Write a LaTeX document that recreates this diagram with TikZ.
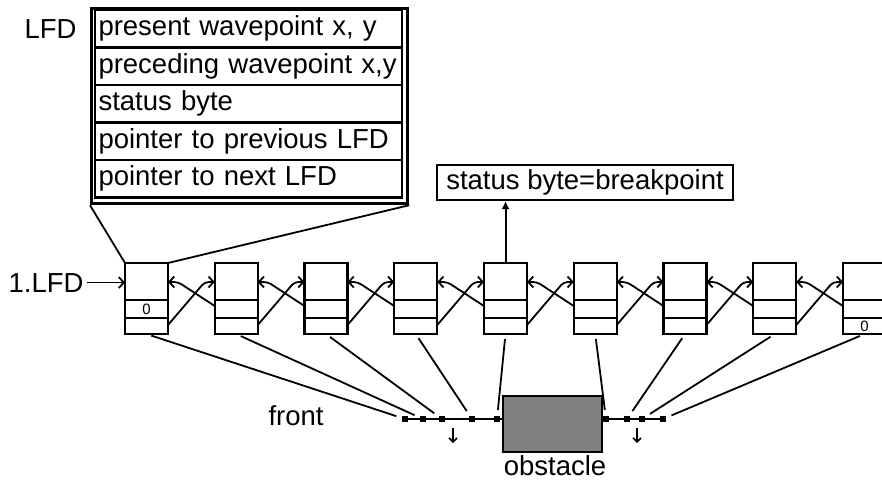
\documentclass[tikz,border=0pt]{standalone}
\usepackage{fontspec}
\setmainfont{Liberation Sans}
\usetikzlibrary{positioning,calc,arrows.meta}
\definecolor{obstgray}{RGB}{128,128,128}

\begin{document}
\begin{tikzpicture}[x=1pt,y=1pt,
    every node/.style={font=\fontsize{27.5}{32}\selectfont},
    lfdbox/.style={draw,line width=2.2pt,minimum width=43pt,minimum height=71pt,inner sep=0pt,outer sep=0pt},
    fieldrow/.style={draw,line width=2.2pt,text width=300pt,align=left,inner xsep=3.5pt,inner ysep=5.75pt,
        text height=20pt,text depth=6pt,outer sep=0pt},
    frontdot/.style={fill,minimum size=5.5pt,inner sep=0pt},
    ptr/.style={line width=1.8pt,rounded corners=4pt,-{Straight Barb[length=5pt,width=11pt]}}
]
\useasboundingbox (0,0) rectangle (882,-485);

% LFD record
\node[anchor=base west] (lfdlab) at (21,-38) {LFD};
\node[draw,line width=3.2pt,minimum width=316pt,minimum height=195pt,inner sep=0pt,anchor=north west] (lfd) at (90,-7) {};
\node[fieldrow,anchor=north west] (f1) at (95,-10) {present wavepoint x, y};
\node[fieldrow,below=0pt of f1] (f2) {preceding wavepoint x,y};
\node[fieldrow,below=0pt of f2] (f3) {status byte};
\node[fieldrow,below=0pt of f3] (f4) {pointer to previous LFD};
\node[fieldrow,below=0pt of f4] (f5) {pointer to next LFD};

% Chain of LFDs
\foreach \i in {1,...,9}{
    \node[lfdbox] (b\i) at ({146.5+89.75*(\i-1)},-298.5) {};
    \draw[line width=2.2pt] ($(b\i.north west)+(0,-37)$) -- ($(b\i.north east)+(0,-37)$);
    \draw[line width=2.2pt] ($(b\i.north west)+(0,-55)$) -- ($(b\i.north east)+(0,-55)$);
}
\node[font=\fontsize{15}{16}\selectfont] (z1) at ($(b1.north)+(0,-46)$) {0};
\node[font=\fontsize{15}{16}\selectfont] (z9) at ($(b9.north)+(0,-63.5)$) {0};

% Pointers
\foreach \i in {1,...,8}{
    \pgfmathtruncatemacro{\j}{\i+1}
    \draw[ptr] ($(b\j.north west)+(0,-43)$) -- ($(b\i.north east)+(10,-19)$) -- ($(b\i.north east)+(0,-19)$);
    \draw[ptr] ($(b\i.north east)+(0,-62)$) -- ($(b\j.north west)+(-10,-19)$) -- ($(b\j.north west)+(0,-19)$);
}

% Record to first LFD
\draw[line width=1.8pt] (lfd.south west) -- (b1.north west);
\draw[line width=1.8pt] (lfd.south east) -- (b1.north east);

\node[anchor=base east] (first) at (87,-292) {1.LFD};
\draw[ptr] (first.east) -- (first.east -| b1.west);

% Breakpoint
\node[draw,line width=2.2pt,minimum width=296pt,minimum height=35pt,inner sep=0pt] (brk) at (585,-182.5) {status byte=breakpoint};
\draw[line width=2pt,-{Latex[length=8pt,width=8pt]}] (b5.north) -- (b5.north |- brk.south);

% Front and obstacle
\node[draw,line width=2.8pt,fill=obstgray,minimum width=99pt,minimum height=56pt,inner sep=0pt] (obs) at (552.5,-424) {};
\node[anchor=base] (obslab) at (555,-475) {obstacle};
\node[anchor=base west] (frontlab) at (265,-425) {front};

\foreach \n/\x in {1/405,2/423,3/442,4/472,5/497,6/606,7/627,8/642,9/663}
    \node[frontdot] (d\n) at (\x,-419) {};
\draw[line width=1.8pt] (d1) -- (d5) -- (d5 -| obs.west);
\draw[line width=1.8pt] (obs.east |- d6) -- (d9);

\foreach \i in {1,...,9}
    \draw[line width=1.8pt,shorten <=5pt,shorten >=6pt] (b\i.south) -- (d\i);

% Moving direction
\coordinate (m1) at (453,-428);
\coordinate (m1e) at (453,-443);
\coordinate (m2) at (637,-428);
\coordinate (m2e) at (637,-443);
\draw[line width=1.6pt,-{Straight Barb[length=4pt,width=8pt]}] (m1) -- (m1e);
\draw[line width=1.6pt,-{Straight Barb[length=4pt,width=8pt]}] (m2) -- (m2e);

\end{tikzpicture}
\end{document}
